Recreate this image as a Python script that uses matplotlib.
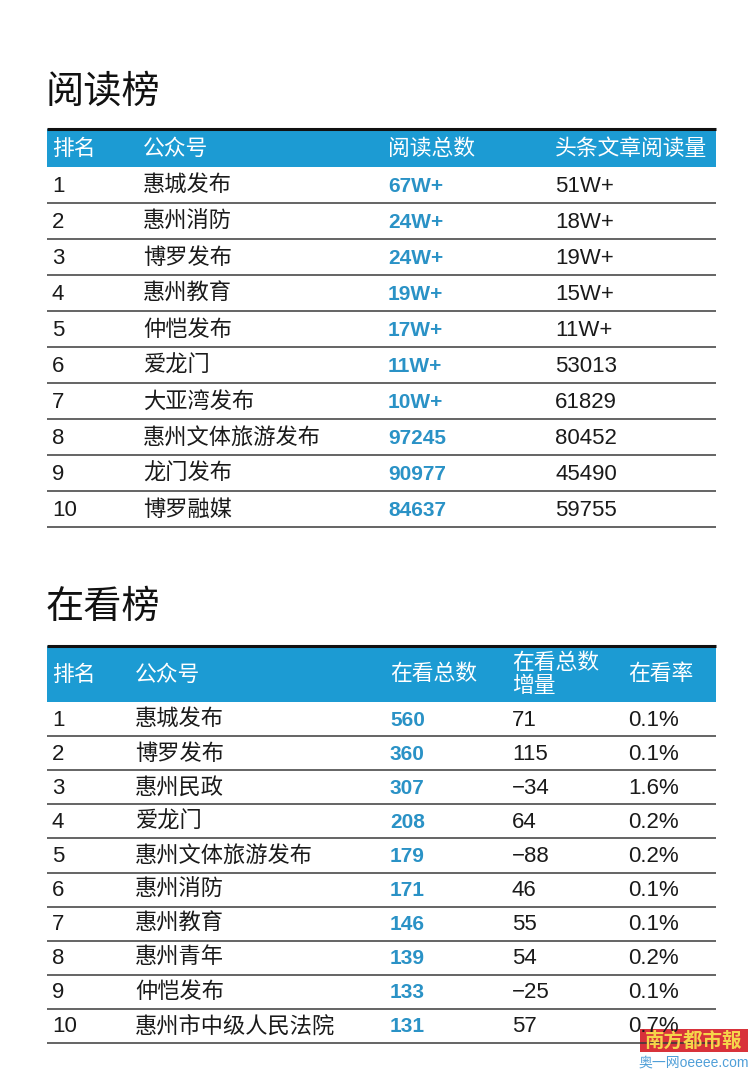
import matplotlib.pyplot as plt

plt.rcParams['font.family'] = ['Liberation Sans', 'Noto Sans CJK SC', 'DejaVu Sans']

# 阅读榜
read_title = '阅读榜'
read_headers = ['排名', '公众号', '阅读总数', '头条文章阅读量']
read_rank = ['1', '2', '3', '4', '5', '6', '7', '8', '9', '10']
read_names = ['惠城发布', '惠州消防', '博罗发布', '惠州教育', '仲恺发布',
              '爱龙门', '大亚湾发布', '惠州文体旅游发布', '龙门发布', '博罗融媒']
read_total = ['67W+', '24W+', '24W+', '19W+', '17W+', '11W+', '10W+', '97245', '90977', '84637']
read_head = ['51W+', '18W+', '19W+', '15W+', '11W+', '53013', '61829', '80452', '45490', '59755']

# 在看榜
look_title = '在看榜'
look_headers = ['排名', '公众号', '在看总数', '在看总数\n增量', '在看率']
look_rank = ['1', '2', '3', '4', '5', '6', '7', '8', '9', '10']
look_names = ['惠城发布', '博罗发布', '惠州民政', '爱龙门', '惠州文体旅游发布',
              '惠州消防', '惠州教育', '惠州青年', '仲恺发布', '惠州市中级人民法院']
look_total = ['560', '360', '307', '208', '179', '171', '146', '139', '133', '131']
look_incr = ['71', '115', '−34', '64', '−88', '46', '55', '54', '−25', '57']
look_rate = ['0.1%', '0.1%', '1.6%', '0.2%', '0.2%', '0.1%', '0.1%', '0.2%', '0.1%', '0.7%']

HEAD_BLUE = '#1c9bd3'
NUM_BLUE = '#2a92c6'
LINE = '#3a3a3a'
X0, X1 = 47, 716

fig = plt.figure(figsize=(7.5, 10.73), dpi=100)
ax = fig.add_axes([0, 0, 1, 1])
ax.set_xlim(0, 750)
ax.set_ylim(1073, 0)
ax.axis('off')


def draw_table(title, title_y, top, head_h, row_h, col_x, headers, columns, blue_col):
    ax.text(X0 - 1, title_y, title, fontsize=27.5, va='center', ha='left', color='#111111')
    ax.add_patch(plt.Rectangle((X0, top), X1 - X0, head_h, color=HEAD_BLUE, lw=0))
    ax.plot([X0, X1], [top, top], color='#111111', lw=2.2, solid_capstyle='butt')
    for x, h in zip(col_x, headers):
        ax.text(x, top + head_h / 2 + 1, h, fontsize=15.7, color='white', va='center',
                ha='left', linespacing=1.1)
    y = top + head_h
    for i in range(len(columns[0])):
        yc = y + row_h / 2 + 1
        for j, (x, col) in enumerate(zip(col_x, columns)):
            if j == blue_col:
                ax.text(x, yc, col[i], fontsize=15, color=NUM_BLUE, va='center', ha='left',
                        weight='bold', family=['Liberation Sans Narrow', 'Liberation Sans'])
            else:
                ax.text(x, yc, col[i], fontsize=16, color='#1a1a1a', va='center', ha='left')
        y += row_h
        ax.plot([X0, X1], [y, y], color=LINE, lw=1.1, solid_capstyle='butt')


draw_table(read_title, 93, 129, 38, 36.0, [52, 143, 388, 555], read_headers,
           [read_rank, read_names, read_total, read_head], 2)
draw_table(look_title, 608, 646, 56, 34.1, [52, 135, 390, 512, 628], look_headers,
           [look_rank, look_names, look_total, look_incr, look_rate], 2)

# watermark
ax.add_patch(plt.Rectangle((640, 1029), 108, 23, color='#d8323a', lw=0))
ax.text(694, 1041, '南方都市報', fontsize=14, color='#f5d54a', va='center', ha='center',
        weight='bold')
ax.text(694, 1063, '奥一网oeeee.com', fontsize=10, color='#4f9fd8', va='center', ha='center')

fig.savefig('out.png', dpi=100, facecolor='white')
